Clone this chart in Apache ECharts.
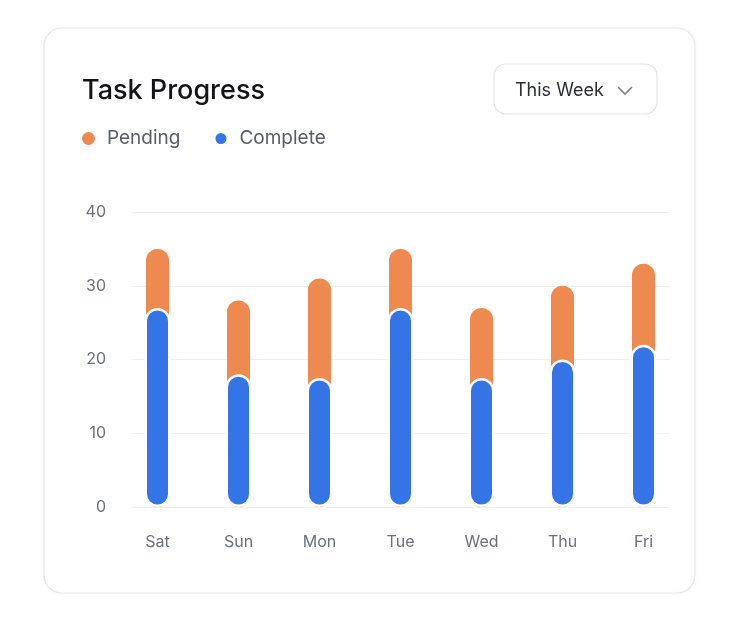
<!DOCTYPE html>
<html>
<head>
<meta charset="utf-8">
<script src="https://cdn.jsdelivr.net/npm/echarts@6/dist/echarts.min.js"></script>
<style>
html,body{margin:0;padding:0;background:#fff;}
#chart{width:732px;height:624px;}
</style>
</head>
<body>
<div id="chart"></div>
<script>
const days = ['Sat', 'Sun', 'Mon', 'Tue', 'Wed', 'Thu', 'Fri'];
const complete = [27, 18, 17.5, 27, 17.5, 20, 22];
const pending = [8, 10, 13.5, 8, 9.5, 10, 11];
const yTicks = [0, 10, 20, 30, 40];

const totals = complete.map((c, i) => c + pending[i]);
const FONT = 'Inter, "Noto Sans", sans-serif';
const ORANGE = '#EE894F';
const BLUE = '#3574E6';

const chart = echarts.init(document.getElementById('chart'));
chart.setOption({
  animation: false,
  textStyle: { fontFamily: FONT },
  title: {
    text: 'Task Progress',
    left: 82, top: 77, padding: 0,
    textStyle: { fontFamily: FONT, fontSize: 27, fontWeight: 500, color: '#141418' }
  },
  legend: {
    data: ['Pending', 'Complete'],
    left: 82, top: 129, padding: 0,
    icon: 'circle',
    itemWidth: 13, itemHeight: 13,
    itemGap: 33,
    textStyle: { fontFamily: FONT, fontSize: 19, color: '#585d6b', padding: [0, 0, 0, 7] }
  },
  graphic: [
    {
      type: 'rect', z: -10,
      shape: { x: 44, y: 28, width: 651, height: 565, r: 18 },
      style: { fill: '#ffffff', stroke: '#e7e7eb', lineWidth: 1.2,
        shadowBlur: 6, shadowColor: 'rgba(0,0,0,0.04)' }
    },
    {
      type: 'rect', z: -5,
      shape: { x: 494, y: 64, width: 163, height: 50, r: 12 },
      style: { fill: '#ffffff', stroke: '#e4e4e9', lineWidth: 1.2 }
    },
    {
      type: 'text', z: 5,
      x: 515, y: 91,
      style: { text: 'This Week', fontFamily: FONT, fontSize: 18, fill: '#2b2d35',
        verticalAlign: 'middle', align: 'left' }
    },
    {
      type: 'polyline', z: 5,
      shape: { points: [[618, 87], [625, 94], [632, 87]] },
      style: { stroke: '#7b808c', lineWidth: 1.6, fill: null }
    }
  ],
  grid: [
    { left: 132, right: 62, top: 212, bottom: 117 },
    { left: 117, right: 48, top: 212, bottom: 117 }
  ],
  xAxis: [
    { type: 'category', gridIndex: 0, data: days, show: false },
    {
      type: 'category', gridIndex: 1, data: days,
      axisLine: { show: false }, axisTick: { show: false },
      axisLabel: { color: '#6b7080', fontSize: 16, fontFamily: FONT, margin: 27 }
    },
    { type: 'category', gridIndex: 1, data: days, show: false }
  ],
  yAxis: [
    {
      type: 'value', gridIndex: 0, min: yTicks[0], max: yTicks[yTicks.length - 1], interval: 10,
      axisLine: { show: false }, axisTick: { show: false },
      axisLabel: { color: '#6b7080', fontSize: 16, fontFamily: FONT, margin: 26 },
      splitLine: { lineStyle: { color: '#eff0f3', width: 1 } }
    },
    {
      type: 'value', gridIndex: 1, min: yTicks[0], max: yTicks[yTicks.length - 1], interval: 10,
      show: false, splitLine: { show: false }
    }
  ],
  series: [
    {
      name: 'Pending', type: 'bar', xAxisIndex: 1, yAxisIndex: 1,
      data: totals, barWidth: 23,
      itemStyle: { color: ORANGE, borderRadius: 11.5 }
    },
    {
      name: 'Complete', type: 'bar', xAxisIndex: 2, yAxisIndex: 1,
      data: complete, barWidth: 26,
      itemStyle: { color: BLUE, borderRadius: 13, borderColor: '#ffffff', borderWidth: 2.5 }
    }
  ]
});
</script>
</body>
</html>
